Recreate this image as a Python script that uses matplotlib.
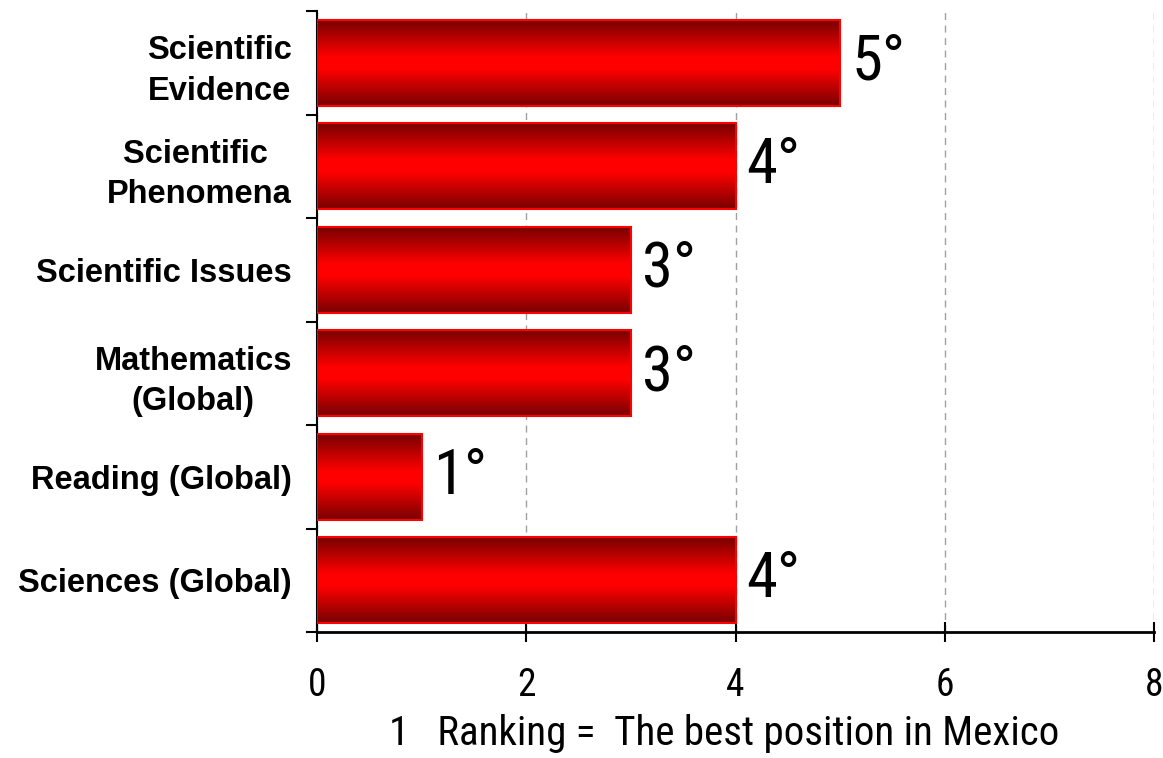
import matplotlib
matplotlib.use("Agg")
import matplotlib.pyplot as plt
import numpy as np
from matplotlib.colors import LinearSegmentedColormap
from matplotlib import font_manager as fm

categories = ["Sciences (Global)", "Reading (Global)", "Mathematics\n(Global)",
              "Scientific Issues", "Scientific \nPhenomena", "Scientific\nEvidence"]
values = [4, 1, 3, 3, 4, 5]
value_labels = ["4°", "1°", "3°", "3°", "4°", "5°"]
xticks = [0, 2, 4, 6, 8]
xlabel = "1   Ranking =  The best position in Mexico"

names = {f.name for f in fm.fontManager.ttflist}
narrow = [n for n in ["Liberation Sans Narrow", "Roboto Condensed", "Open Sans Condensed",
                      "DejaVu Sans Condensed", "Liberation Sans"] if n in names]
narrow_family = narrow + ["DejaVu Sans"]

fig = plt.figure(figsize=(11.63, 7.58), dpi=100)
ax = fig.add_axes([317/1163, 1-632/758, (1154-317)/1163, (632-11)/758])

y = np.arange(len(categories))
bars = ax.barh(y, values, height=0.83, color="none", edgecolor="#FF0000", linewidth=1.5, zorder=3)

cmap = LinearSegmentedColormap.from_list(
    "redgrad", [(0, "#780000"), (0.43, "#FF0000"), (0.57, "#FF0000"), (1, "#780000")])
grad = np.linspace(0, 1, 256).reshape(-1, 1)
for b in bars:
    x0, y0 = b.get_x(), b.get_y()
    w, h = b.get_width(), b.get_height()
    im = ax.imshow(grad, cmap=cmap, aspect="auto", extent=[x0, x0 + w, y0, y0 + h],
                   origin="lower", zorder=2, interpolation="bilinear")
    im.set_clip_path(b)

for b, lab in zip(bars, value_labels):
    ax.annotate(lab, (b.get_width(), b.get_y() + b.get_height()/2),
                xytext=(8, 0), textcoords="offset points", va="center", ha="left",
                fontsize=45, family=narrow_family, color="black")

ax.set_xlim(0, 8)
ax.set_ylim(-0.5, len(categories) - 0.5)
ax.set_xticks(xticks)
ax.set_xticklabels([str(t) for t in xticks], family=narrow_family, fontsize=27)
ax.tick_params(axis="x", direction="inout", length=14, width=1.5, pad=18)
ax.set_yticks(y)
ax.set_yticklabels(categories, fontsize=23.5, fontweight="bold", family=["Liberation Sans", "DejaVu Sans"],
                   multialignment="center", linespacing=1.4)
ax.tick_params(axis="y", which="major", length=0, pad=18)
ax.set_yticks(np.arange(-0.5, len(categories), 1.0), minor=True)
ax.tick_params(axis="y", which="minor", direction="out", length=8, width=1.5)

ax.grid(axis="x", color="#A0A0A0", linestyle=(0, (5, 4)), linewidth=1, zorder=0)
for s in ["top", "right"]:
    ax.spines[s].set_visible(False)
ax.spines["left"].set_linewidth(1.5)
ax.spines["bottom"].set_linewidth(2)

ax.set_xlabel(xlabel, family=narrow_family, fontsize=29.5)
ax.xaxis.set_label_coords(0.487, -0.132)

fig.savefig("out.png", dpi=100)
